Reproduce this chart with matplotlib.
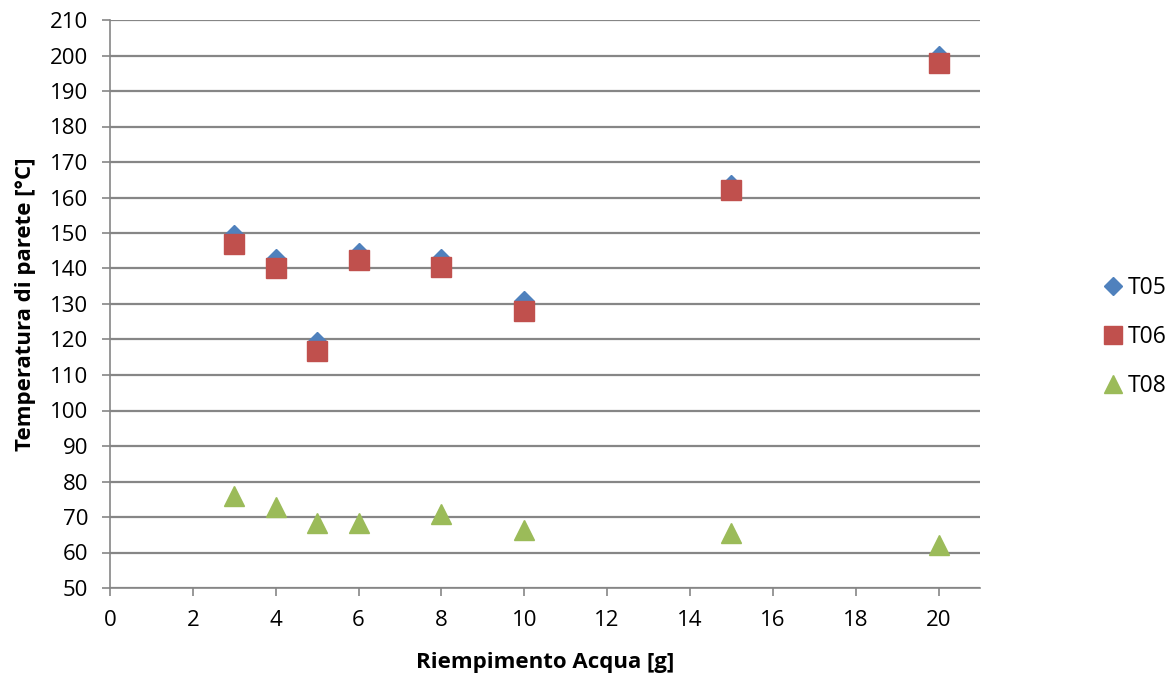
import matplotlib.pyplot as plt

plt.rcParams['font.family'] = ['Open Sans', 'DejaVu Sans']

# Riempimento acqua [g]
riempimento = [3, 4, 5, 6, 8, 10, 15, 20]

# Temperature di parete [°C]
t05 = [149.5, 142.6, 119.3, 144.3, 142.7, 130.9, 163.5, 200.0]
t06 = [147.0, 140.0, 116.8, 142.3, 140.5, 128.1, 162.0, 197.8]
t08 = [75.9, 72.8, 68.2, 68.4, 70.8, 66.2, 65.5, 62.2]

x_ticks = list(range(0, 21, 2))
y_ticks = list(range(50, 211, 10))


def plot_temperature():
  fig = plt.figure(figsize=(11.75, 6.77), dpi=100)
  ax = fig.add_axes([110 / 1175, 1 - 588 / 677, 870 / 1175, 568 / 677])

  ax.plot(riempimento, t05, linestyle='none', marker='D', markersize=10.5,
          color='#4F81BD', label='T05')
  ax.plot(riempimento, t06, linestyle='none', marker='s', markersize=14,
          color='#C0504D', label='T06')
  ax.plot(riempimento, t08, linestyle='none', marker='^', markersize=14,
          color='#9BBB59', label='T08')

  ax.set_xlim(0, 21)
  ax.set_ylim(50, 210)
  ax.set_xticks(x_ticks)
  ax.set_yticks(y_ticks)
  ax.tick_params(axis='both', labelsize=16, direction='out', length=5.8,
                 color='#868686', width=1.2)
  ax.tick_params(axis='x', pad=10)
  ax.tick_params(axis='y', pad=10)

  ax.grid(axis='y', color='#868686', linewidth=1.6)
  ax.set_axisbelow(True)
  for side in ['top', 'right']:
    ax.spines[side].set_visible(False)
  for side in ['left', 'bottom']:
    ax.spines[side].set_color('#868686')
    ax.spines[side].set_linewidth(1.2)

  ax.set_xlabel('Riempimento Acqua [g]', fontsize=16, fontweight='bold', labelpad=15)
  ax.set_ylabel('Temperatura di parete [°C]', fontsize=16, fontweight='bold', labelpad=10)

  fig.legend(loc='center left', bbox_to_anchor=(1092 / 1175, 1 - 337 / 677),
             frameon=False, fontsize=16.5, handletextpad=0.15, labelspacing=1.1,
             handlelength=1.0, markerscale=0.9, borderaxespad=0)

  fig.savefig('out.png', dpi=100)


if __name__ == '__main__':
  plot_temperature()
